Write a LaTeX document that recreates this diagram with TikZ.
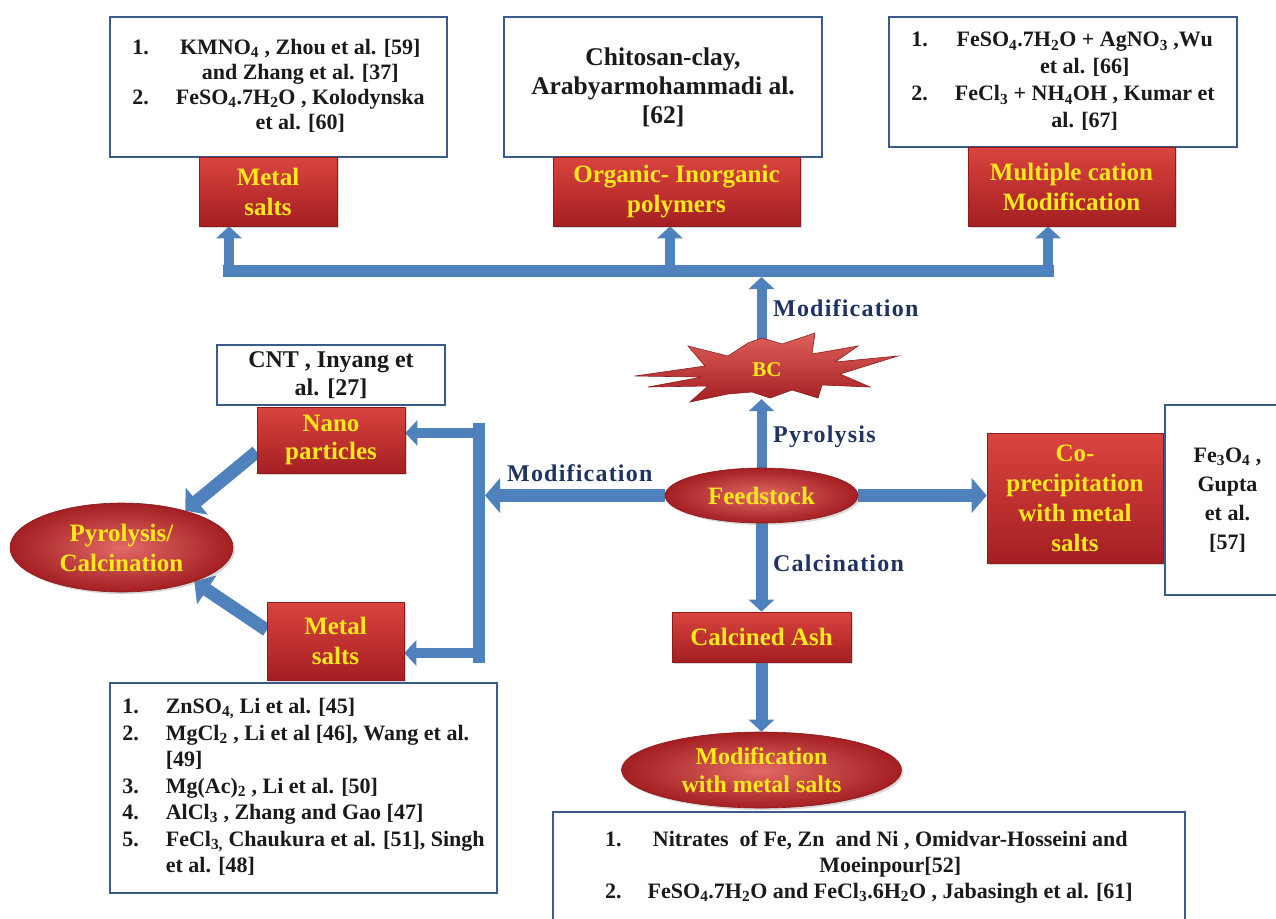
\documentclass[tikz,border=0pt]{standalone}
\usepackage{fontspec}
\setmainfont{Liberation Serif}
\usetikzlibrary{arrows.meta,shapes.geometric,shadows}
\definecolor{ablue}{HTML}{4F81BD}
\definecolor{bord}{HTML}{3B5A8E}
\definecolor{rtop}{HTML}{DA443F}
\definecolor{rbot}{HTML}{A41F22}
\definecolor{redge}{HTML}{8E1A1C}
\definecolor{ytext}{HTML}{FFE81C}
\definecolor{navy}{HTML}{1F3363}
\definecolor{ink}{HTML}{1A1A1A}
\pgfdeclarelayer{bg}
\pgfsetlayers{bg,main}
\tikzset{
  wbox/.style={draw=bord, line width=2.5pt, fill=white, inner sep=0pt, text=ink,
    font=\bfseries\fontsize{22}{25}\selectfont, align=center},
  rbox/.style={draw=redge, line width=0.6pt, top color=rtop, bottom color=rbot,
    inner sep=0pt, text=ytext, font=\bfseries\fontsize{25}{30}\selectfont, align=center,
    drop shadow={opacity=0.3, shadow xshift=2pt, shadow yshift=-2pt}},
  rell/.style={ellipse, draw=redge, line width=0.6pt, inner color=rtop!80!white, outer color=rbot,
    inner sep=0pt, text=ytext, font=\bfseries\fontsize{25}{30}\selectfont, align=center,
    drop shadow={opacity=0.3, shadow xshift=2pt, shadow yshift=-2pt}},
  lab/.style={text=navy, font=\bfseries\fontsize{24}{28}\selectfont\addfontfeature{LetterSpace=5},
    anchor=west, inner sep=0pt},
  arrS/.style={draw=ablue, line width=10pt, -{Triangle[length=12pt 0, width=25pt 0]}},
  arrM/.style={draw=ablue, line width=13pt, -{Triangle[length=15pt 0, width=34pt 0]}},
  busbar/.style={draw=ablue, line width=12pt}
}
\begin{document}
\begin{tikzpicture}[x=1pt,y=-1pt]
\useasboundingbox (0,0) rectangle (1276,918);
\clip (0,0) rectangle (1276,918);

% top row
\node[wbox, minimum width=337pt, minimum height=140pt] (tb1) at (278.5,87)
  {\begin{tabular}{@{}l@{\hspace{27pt}}c@{}}
   1. & KMNO\textsubscript{4} , Zhou et al. [59]\\
      & and Zhang et al. [37]\\
   2. & FeSO\textsubscript{4}.7H\textsubscript{2}O , Kolodynska\\
      & et al. [60]
   \end{tabular}};
\node[rbox, minimum width=138pt, minimum height=69pt] (ms1) at (268,191.5) {Metal\\salts};

\node[wbox, font=\bfseries\fontsize{25.5}{29}\selectfont, minimum width=318pt, minimum height=140pt] (tb2) at (663,87)
  {Chitosan-clay,\\Arabyarmohammadi al.\\{}[62]};
\node[rbox, minimum width=247pt, minimum height=69pt] (org) at (676.5,191.5) {Organic- Inorganic\\polymers};

\node[wbox, font=\bfseries\fontsize{22}{27}\selectfont, minimum width=348pt, minimum height=130pt] (tb3) at (1063,82)
  {\begin{tabular}{@{}l@{\hspace{27pt}}c@{}}
   1. & FeSO\textsubscript{4}.7H\textsubscript{2}O + AgNO\textsubscript{3} ,Wu\\
      & et al. [66]\\
   2. & FeCl\textsubscript{3} + NH\textsubscript{4}OH , Kumar et\\
      & al. [67]
   \end{tabular}};
\node[rbox, minimum width=207pt, minimum height=79pt] (mc) at (1071.5,186.5) {Multiple cation\\Modification};

% BC starburst
\shadedraw[top color=rtop!85!white, bottom color=rbot, draw=redge, line width=0.6pt]
  (635,376) -- (705,366) -- (688,346) -- (728,356) -- (748,343) -- (762,338) -- (782,344)
  -- (815,333) -- (812,354) -- (858,346) -- (835,362) -- (898,356) -- (840,374)
  -- (870,387) -- (822,385) -- (818,398) -- (792,390) -- (770,398) -- (752,392)
  -- (728,394) -- (690,402) -- (708,386) -- (648,387) -- (702,377) -- cycle;
\node[text=ytext, font=\bfseries\fontsize{21}{24}\selectfont, minimum width=60pt,
  minimum height=58pt, inner sep=0pt] (bc) at (767,370) {BC};

% centre
\node[rell, minimum width=193pt, minimum height=55pt] (feed) at (761.5,495.5) {Feedstock};
\node[rbox, minimum width=179pt, minimum height=50pt] (ash) at (761.5,637) {Calcined Ash};
\node[rell, font=\bfseries\fontsize{24}{28}\selectfont, minimum width=280pt, minimum height=76pt] (mod) at (761.5,770)
  {Modification\\with metal salts};
\node[wbox, font=\bfseries\fontsize{22}{26}\selectfont, minimum width=632pt, minimum height=110pt] (bb) at (869,867)
  {\begin{tabular}{@{}l@{\hspace{26pt}}c@{}}
   1. & Nitrates\ \ of Fe, Zn\ \ and Ni , Omidvar-Hosseini and\\
      & Moeinpour[52]\\
   2. & FeSO\textsubscript{4}.7H\textsubscript{2}O and FeCl\textsubscript{3}.6H\textsubscript{2}O , Jabasingh et al. [61]
   \end{tabular}};

% right
\node[rbox, minimum width=176pt, minimum height=130pt] (cop) at (1075,498) {Co-\\precipitation\\with metal\\salts};
\node[wbox, font=\bfseries\fontsize{22}{29}\selectfont, minimum width=125pt, minimum height=190pt] (fe) at (1227.5,500)
  {Fe\textsubscript{3}O\textsubscript{4} ,\\Gupta\\et al.\\{}[57]};

% left
\node[wbox, font=\bfseries\fontsize{24}{28}\selectfont, minimum width=228pt, minimum height=60pt] (cnt) at (331,375)
  {CNT , Inyang et\\al. [27]};
\node[rbox, font=\bfseries\fontsize{25}{28}\selectfont, minimum width=148pt, minimum height=66pt] (nano) at (331,440) {Nano\\particles};
\node[rell, minimum width=223pt, minimum height=89pt] (pyro) at (121.5,547.5) {Pyrolysis/\\Calcination};
\node[rbox, minimum width=137pt, minimum height=78pt] (ms2) at (335.5,641) {Metal\\salts};
\node[wbox, font=\bfseries\fontsize{22}{26.5}\selectfont, minimum width=387pt, minimum height=210pt] (lb) at (303.5,788)
  {\begin{tabular}{@{}l@{\hspace{27pt}}l@{}}
   1. & ZnSO\textsubscript{4,} Li et al. [45]\\
   2. & MgCl\textsubscript{2} , Li et al [46], Wang et al.\\
      & [49]\\
   3. & Mg(Ac)\textsubscript{2} , Li et al. [50]\\
   4. & AlCl\textsubscript{3} , Zhang and Gao [47]\\
   5. & FeCl\textsubscript{3,} Chaukura et al. [51], Singh\\
      & et al. [48]
   \end{tabular}};

% labels
\node[lab] (lmodT) at (773,308) {Modification};
\node[lab] (lpyr) at (773,437) {Pyrolysis};
\node[lab] (lmodL) at (507,473) {Modification};
\node[lab] (lcal) at (773,563) {Calcination};

% connector coordinates
\coordinate (busL) at (229,271);
\coordinate (busM) at (670,271);
\coordinate (busR) at (1048,271);
\coordinate (vt) at (479,433);
\coordinate (vb) at (479,653);

\begin{pgfonlayer}{bg}
  \fill[white] (0,0) rectangle (1276,918);
  \draw[busbar] ([xshift=-6pt]busL) -- ([xshift=6pt]busR);
  \draw[arrS] (busL) -- (busL |- ms1.south);
  \draw[arrS] (busM) -- (busM |- org.south);
  \draw[arrS] (busR) -- (busR |- mc.south);
  \draw[arrS, shorten >=6pt] (bc.north -| feed.north) -- (feed.north |- busL);
  \draw[arrS] (feed.north) -- (feed.north |- bc.south);
  \draw[busbar] ([yshift=10pt]vt) -- ([yshift=-10pt]vb);
  \draw[arrM, shorten >=6pt] (feed.west) -- (feed.west -| vt);
  \draw[arrS] (vt) -- (vt -| nano.east);
  \draw[arrS] (vb) -- (vb -| ms2.east);
  \draw[arrM] (feed.east) -- (feed.east -| cop.west);
  \draw[arrS, line width=12pt] (feed.south) -- (feed.south |- ash.north);
  \draw[arrS, line width=12pt] (ash.south) -- (ash.south |- mod.north);
  \draw[arrM] (nano.189) -- (pyro.30);
  \draw[arrM] (ms2.171) -- (pyro.-25);
\end{pgfonlayer}
\end{tikzpicture}
\end{document}
